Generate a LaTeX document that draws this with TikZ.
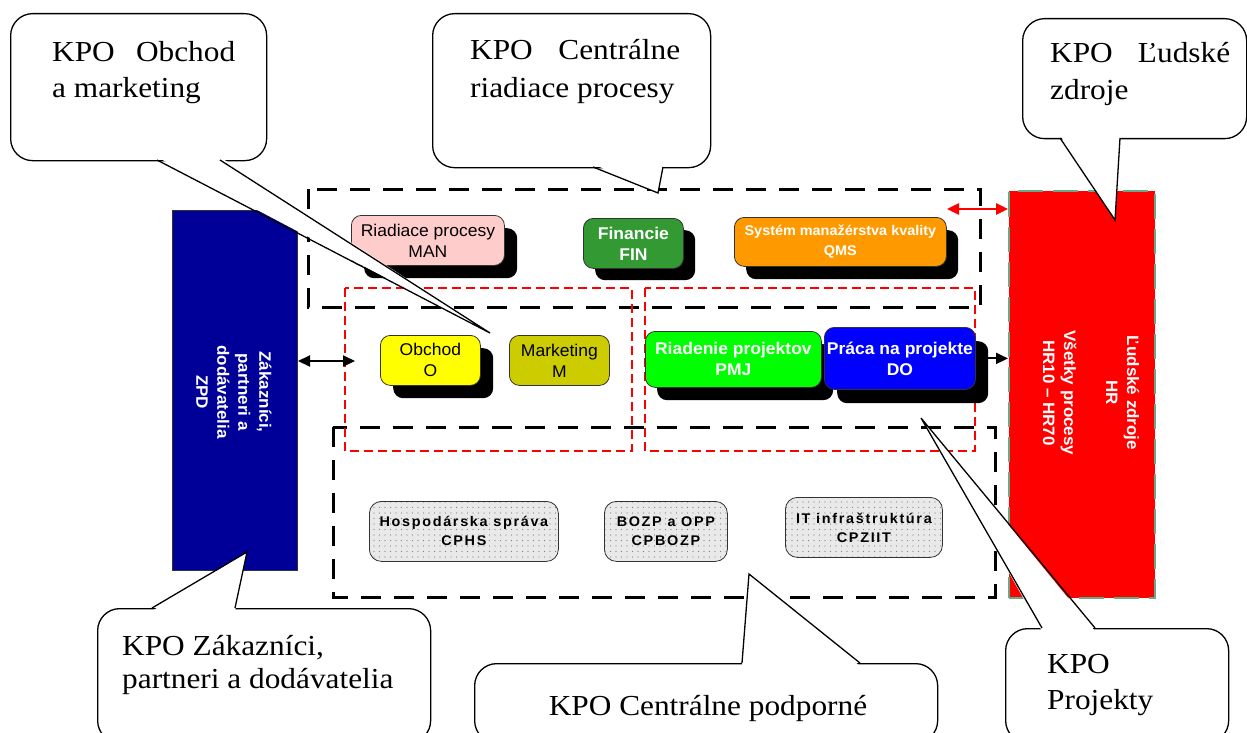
\documentclass[tikz,border=0pt]{standalone}
\usepackage{fontspec}
\setmainfont{Liberation Serif}[FakeStretch=1.08]
\newfontfamily\boxfont{Liberation Sans}[FakeStretch=1.03]
\newfontfamily\dotfont{Liberation Sans}[LetterSpace=12,FakeStretch=1.03]
\usetikzlibrary{arrows.meta,patterns}

\definecolor{navybox}{HTML}{000099}
\definecolor{pinkbox}{HTML}{FFCCCC}
\definecolor{finbox}{HTML}{339933}
\definecolor{qmsbox}{HTML}{FF9900}
\definecolor{obchbox}{HTML}{FFFF00}
\definecolor{mktbox}{HTML}{CCCC00}
\definecolor{pmjbox}{HTML}{00FF00}
\definecolor{dobox}{HTML}{0000FF}
\definecolor{graybox}{HTML}{E9E9E9}
\definecolor{hrborder}{HTML}{66AA88}

\pgfdeclarepatternformonly{finedots}{\pgfqpoint{-1pt}{-1pt}}{\pgfqpoint{1pt}{1pt}}{\pgfqpoint{5.5pt}{5.5pt}}%
  {\pgfpathcircle{\pgfqpoint{0pt}{0pt}}{0.6pt}\pgfusepath{fill}}

\tikzset{trihead/.tip={Triangle[length=12pt,width=11pt]}}

% callout tail: base x1, base x2, edge y, y just inside the box, tip coordinate
\newcommand\calltail[5]{%
  \fill[white] (#1,#4) -- (#5) -- (#2,#4) -- cycle;
  \draw[callline] (#1,#3) -- (#5) -- (#2,#3);}

\begin{document}
\begin{tikzpicture}[x=1pt,y=-1pt,
  callbox/.style={draw=black,line width=1.3pt,fill=white,rounded corners=22pt,inner sep=0pt,anchor=north west},
  callline/.style={draw=black,line width=1.3pt,line join=miter},
  calltext/.style={font=\fontsize{29}{36}\selectfont,inner sep=0pt,anchor=base west},
  bigdash/.style={draw=black,line width=3pt,dash pattern=on 20pt off 13pt},
  reddash/.style={draw=red,line width=1.5pt,dash pattern=on 9pt off 5pt},
  procbox/.style={draw=black!80,line width=0.8pt,rounded corners=10pt,inner sep=0pt,anchor=north west,
    align=center,font=\boxfont\fontsize{17}{21}\selectfont},
  whitebold/.style={text=white,font=\boxfont\bfseries\fontsize{17}{21}\selectfont},
  shadowbox/.style={fill=black,rounded corners=10pt,inner sep=0pt,anchor=north west},
  dotbox/.style={draw=black!80,line width=0.8pt,rounded corners=12pt,inner sep=0pt,anchor=north west,
    preaction={fill=graybox},pattern=finedots,pattern color=black!50,
    align=center,font=\dotfont\bfseries\fontsize{14}{19}\selectfont},
  sidetext/.style={rotate=-90,text=white,align=center,font=\boxfont\bfseries\fontsize{16.5}{21}\selectfont}
]
\useasboundingbox (0,0) rectangle (1247,733);
\fill[white] (0,0) rectangle (1247,733);

% process groups
\draw[bigdash] (308,189) rectangle (980,307);
\draw[bigdash] (333,427) rectangle (995,597);
\draw[reddash] (345,288) rectangle (632,451);
\draw[reddash] (645,288) rectangle (975,451);

% side blocks
\node[draw=black!80,line width=1pt,fill=navybox,inner sep=0pt,anchor=north west,
  minimum width=125pt,minimum height=360pt] (zpd) at (172,210) {};
\node[sidetext] (zpdtext) at (234,392) {Zákazníci,\\partneri a\\dodávatelia\\ZPD};
\node[draw=hrborder,line width=1.5pt,dash pattern=on 25pt off 10pt,fill=red,inner sep=0pt,anchor=north west,
  minimum width=146pt,minimum height=407pt] (hr) at (1008,190) {};
\node[sidetext] (hrtext) at (1091,393) {Ľudské zdroje\\HR\\[21pt]Všetky procesy\\HR10 – HR70};

% central management processes
\node[shadowbox,minimum width=153pt,minimum height=50pt] (mansh) at (364,228) {};
\node[procbox,fill=pinkbox,minimum width=153pt,minimum height=50pt] (man) at (351,215) {Riadiace procesy\\MAN};
\node[shadowbox,minimum width=100pt,minimum height=50pt] (finsh) at (595,230) {};
\node[procbox,fill=finbox,whitebold,minimum width=100pt,minimum height=50pt] (fin) at (583,218) {Financie\\FIN};
\node[shadowbox,minimum width=212pt,minimum height=49pt] (qmssh) at (746,230) {};
\node[procbox,fill=qmsbox,text=white,font=\boxfont\bfseries\fontsize{14}{20}\selectfont,
  minimum width=212pt,minimum height=49pt] (qms) at (734,217) {Systém manažérstva kvality\\QMS};

% sales and marketing
\node[shadowbox,minimum width=100pt,minimum height=50pt] (obsh) at (393,348) {};
\node[procbox,fill=obchbox,minimum width=100pt,minimum height=50pt] (ob) at (380,335) {Obchod\\O};
\node[procbox,fill=mktbox,minimum width=100pt,minimum height=50pt] (mkt) at (509,335) {Marketing\\M};

% projects
\node[shadowbox,minimum width=176pt,minimum height=56pt] (pmjsh) at (657,344) {};
\node[procbox,fill=pmjbox,whitebold,minimum width=176pt,minimum height=56pt] (pmj) at (645,331) {Riadenie projektov\\PMJ};
\node[shadowbox,minimum width=151pt,minimum height=62pt] (dosh) at (837,341) {};
\node[procbox,fill=dobox,whitebold,minimum width=151pt,minimum height=62pt] (do) at (824,327) {Práca na projekte\\DO};

% central support processes
\node[dotbox,minimum width=189pt,minimum height=60pt] (cphs) at (369,501) {Hospodárska správa\\CPHS};
\node[dotbox,minimum width=123pt,minimum height=60pt] (cpbozp) at (604,501) {BOZP a OPP\\CPBOZP};
\node[dotbox,minimum width=157pt,minimum height=60pt] (cpziit) at (785,497) {IT infraštruktúra\\CPZIIT};

% interfaces
\coordinate (omIn) at (355,361);
\draw[line width=2pt,trihead-trihead] (zpd.east |- omIn) -- (omIn);
\coordinate (hrIn) at (947,209);
\draw[red,line width=2.5pt,trihead-trihead] (hrIn) -- (hrIn -| hr.west);
\draw[line width=2pt,-trihead] (do.east -| dosh.east) -- (do.east -| hr.west);

% callouts
\coordinate (tipOb) at (490,333);
\coordinate (tipCr) at (658,193);
\coordinate (tipLz) at (1115,220);
\coordinate (tipZk) at (247,552);
\coordinate (tipCp) at (749,574);
\coordinate (tipPr) at (921,418);

\node[callbox,minimum width=256pt,minimum height=147pt] (cObchod) at (10,13) {};
\calltail{157}{220}{160}{157}{tipOb}
\node[calltext] (lOb1) at (52,62) {\makebox[183pt][s]{KPO Obchod}};
\node[calltext] (lOb2) at (52,98) {a marketing};

\node[callbox,minimum width=278pt,minimum height=154pt] (cRiad) at (432,13) {};
\calltail{593}{663}{167}{164}{tipCr}
\node[calltext] (lCr1) at (470,60) {\makebox[210pt][s]{KPO Centrálne}};
\node[calltext] (lCr2) at (470,98) {riadiace procesy};

\node[callbox,minimum width=224pt,minimum height=120pt] (cLudske) at (1022,18) {};
\calltail{1060}{1120}{138}{135}{tipLz}
\node[calltext] (lLz1) at (1050,63) {\makebox[180pt][s]{KPO Ľudské}};
\node[calltext] (lLz2) at (1050,100) {zdroje};

\node[callbox,minimum width=333pt,minimum height=134pt] (cZakaz) at (97,608) {};
\calltail{152}{235}{608}{611}{tipZk}
\node[calltext] (lZk1) at (122,655) {KPO Zákazníci,};
\node[calltext] (lZk2) at (122,688) {partneri a dodávatelia};

\node[callbox,minimum width=463pt,minimum height=79pt] (cPodp) at (474,663) {};
\calltail{742}{860}{663}{666}{tipCp}
\node[calltext,anchor=base] (lCp) at (708,715) {KPO Centrálne podporné};

\node[callbox,minimum width=223pt,minimum height=114pt] (cProj) at (1005,628) {};
\calltail{1042}{1095}{628}{631}{tipPr}
\node[calltext] (lPr1) at (1047,673) {KPO};
\node[calltext] (lPr2) at (1047,709) {Projekty};
\end{tikzpicture}
\end{document}
